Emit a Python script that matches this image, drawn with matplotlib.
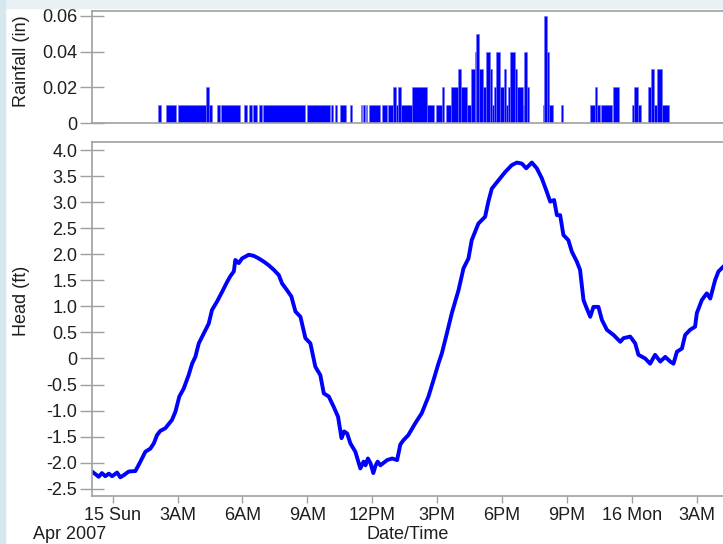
import matplotlib
matplotlib.use("Agg")
import matplotlib.pyplot as plt
from matplotlib.patches import Rectangle

plt.rcParams['font.family'] = ['Liberation Sans', 'DejaVu Sans']

# hours since 15 Apr 2007 00:00
rain_start = [2.08, 2.45, 3.00, 4.32, 4.44, 4.82, 4.99, 6.09, 6.29, 6.50, 6.78, 6.97,
              8.97, 10.10, 10.30, 10.51, 10.98, 11.46, 11.58, 11.69, 11.83, 12.44,
              12.75, 12.98, 13.10, 13.18, 13.34, 13.83, 14.55, 14.93, 15.22, 15.42,
              15.65, 15.95, 16.11, 16.40, 16.56, 16.76, 16.80, 16.94, 17.11, 17.27,
              17.45, 17.53, 17.65, 17.72, 17.91, 18.07, 18.18, 18.30, 18.38, 18.58,
              18.69, 18.96, 19.04, 19.15, 19.89, 19.96, 20.10, 20.19, 20.72, 22.05,
              22.31, 22.41, 22.59, 23.15, 24.01, 24.12, 24.27, 24.77, 24.90, 25.01,
              25.19, 25.38]
rain_end = [2.22, 2.91, 4.32, 4.44, 4.61, 4.94, 5.87, 6.20, 6.42, 6.69, 6.92, 8.90,
            10.05, 10.20, 10.39, 10.79, 11.05, 11.53, 11.65, 11.76, 12.36, 12.67,
            12.98, 13.10, 13.18, 13.34, 13.83, 14.55, 14.86, 15.22, 15.32, 15.65,
            15.95, 16.11, 16.40, 16.56, 16.76, 16.80, 16.94, 17.11, 17.27, 17.45,
            17.53, 17.65, 17.72, 17.91, 18.07, 18.18, 18.30, 18.38, 18.58, 18.69,
            18.96, 19.04, 19.15, 19.27, 19.96, 20.10, 20.19, 20.35, 20.81, 22.31,
            22.41, 22.51, 23.08, 23.39, 24.12, 24.27, 24.42, 24.90, 25.01, 25.19,
            25.38, 25.70]
rain_in = [0.01, 0.01, 0.01, 0.02, 0.01, 0.01, 0.01, 0.01, 0.01, 0.01, 0.01, 0.01,
           0.01, 0.01, 0.01, 0.01, 0.01, 0.01, 0.01, 0.01, 0.01, 0.01,
           0.01, 0.02, 0.01, 0.02, 0.01, 0.02, 0.01, 0.01, 0.02, 0.01,
           0.02, 0.03, 0.02, 0.01, 0.03, 0.04, 0.05, 0.03, 0.02, 0.04,
           0.03, 0.01, 0.02, 0.04, 0.02, 0.03, 0.01, 0.02, 0.04, 0.03,
           0.02, 0.01, 0.04, 0.02, 0.01, 0.06, 0.04, 0.01, 0.01, 0.01,
           0.02, 0.01, 0.01, 0.02, 0.01, 0.02, 0.01, 0.02, 0.03, 0.01,
           0.03, 0.01]

head_hr = [-0.96, -0.80, -0.65, -0.50, -0.34, -0.18, -0.03, 0.20, 0.35, 0.51, 0.74, 1.05,
           1.28, 1.51, 1.74, 1.90, 2.05, 2.20, 2.43, 2.74, 2.90, 3.08, 3.28, 3.51,
           3.67, 3.82, 3.98, 4.21, 4.44, 4.59, 4.82, 5.06, 5.29, 5.44, 5.60, 5.67,
           5.83, 5.98, 6.29, 6.52, 6.75, 6.98, 7.21, 7.45, 7.68, 7.83, 8.06, 8.26,
           8.45, 8.68, 8.91, 9.14, 9.37, 9.60, 9.76, 9.99, 10.22, 10.42, 10.58,
           10.70, 10.84, 10.99, 11.22, 11.45, 11.60, 11.69, 11.80, 11.92, 12.05,
           12.15, 12.25, 12.38, 12.69, 12.92, 13.15, 13.30, 13.44, 13.67,
           13.98, 14.29, 14.60, 14.83, 15.06, 15.22, 15.45, 15.68, 15.99, 16.22,
           16.45, 16.60, 16.91, 17.22, 17.37, 17.53, 17.84, 18.15, 18.45, 18.69,
           18.92, 19.12, 19.38, 19.61, 19.84, 20.07, 20.23, 20.41, 20.54, 20.69,
           20.84, 21.07, 21.23, 21.46, 21.61, 21.77, 21.92, 22.08, 22.23, 22.46,
           22.62, 22.85, 23.16, 23.47, 23.62, 23.93, 24.16, 24.31, 24.62, 24.85,
           25.08, 25.32, 25.55, 25.78, 25.93, 26.09, 26.32, 26.47, 26.70, 26.93,
           27.01, 27.24, 27.47, 27.63, 27.86, 28.01, 28.23]
head_ft = [-2.17, -2.22, -2.27, -2.20, -2.26, -2.21, -2.26, -2.19, -2.28, -2.24, -2.17, -2.16,
           -1.98, -1.79, -1.73, -1.63, -1.47, -1.39, -1.34, -1.18, -1.02, -0.73, -0.58, -0.32,
           -0.10, 0.03, 0.29, 0.48, 0.67, 0.93, 1.09, 1.28, 1.47, 1.58, 1.67, 1.89,
           1.83, 1.92, 1.99, 1.97, 1.92, 1.86, 1.79, 1.70, 1.60, 1.44, 1.31, 1.19,
           0.90, 0.80, 0.39, 0.29, -0.16, -0.32, -0.67, -0.73, -0.93, -1.12, -1.53,
           -1.40, -1.44, -1.63, -1.79, -2.11, -1.98, -2.05, -1.92, -2.01, -2.20,
           -2.06, -1.98, -2.05, -1.95, -1.92, -1.95, -1.65, -1.57, -1.47,
           -1.25, -1.05, -0.73, -0.42, -0.10, 0.10, 0.48, 0.87, 1.31, 1.73,
           1.92, 2.27, 2.59, 2.72, 3.01, 3.26, 3.42, 3.58, 3.71, 3.76,
           3.74, 3.65, 3.76, 3.65, 3.46, 3.20, 3.01, 3.04, 2.75, 2.75,
           2.37, 2.27, 2.05, 1.86, 1.70, 1.12, 0.96, 0.80, 0.99, 0.99,
           0.74, 0.55, 0.45, 0.32, 0.39, 0.42, 0.29, 0.07, 0.00, -0.10,
           0.07, -0.06, 0.03, -0.06, -0.10, 0.13, 0.19, 0.45, 0.55, 0.61,
           0.87, 1.12, 1.25, 1.15, 1.51, 1.67, 1.76]

tick_hr = [0, 3, 6, 9, 12, 15, 18, 21, 24, 27]
tick_lbl = ['15 Sun', '3AM', '6AM', '9AM', '12PM', '3PM', '6PM', '9PM', '16 Mon', '3AM']
rain_ticks = [0, 0.02, 0.04, 0.06]
rain_lbl = ['0', '0.02', '0.04', '0.06']
head_ticks = [4.0, 3.5, 3.0, 2.5, 2.0, 1.5, 1.0, 0.5, 0, -0.5, -1.0, -1.5, -2.0, -2.5]

blue = '#0000ff'
grey = '#a0a0a0'
txt = '#1e1e1e'
fs = 13

fig = plt.figure(figsize=(7.23, 5.44), dpi=100)
fig.patches.append(Rectangle((0, 0.985), 1, 0.015, transform=fig.transFigure,
                             color='#eaf1f5', zorder=0))
fig.patches.append(Rectangle((0, 0), 0.007, 1, transform=fig.transFigure,
                             color='#d6e8ee', zorder=0))

ax1 = fig.add_axes([0.1272, 0.7734, 0.8728, 0.2064])
ax2 = fig.add_axes([0.1272, 0.0882, 0.8728, 0.6513])

widths = [e - s for s, e in zip(rain_start, rain_end)]
ax1.bar(rain_start, rain_in, width=widths, align='edge', color=blue,
        edgecolor='#6f6fff', linewidth=0.4)
ax2.plot(head_hr, head_ft, color=blue, linewidth=2.8)

for ax in (ax1, ax2):
    ax.set_xlim(-0.96, 28.22)
    for side in ('left', 'top', 'bottom'):
        ax.spines[side].set_color(grey)
        ax.spines[side].set_linewidth(1.2)
    ax.spines['right'].set_visible(False)
    ax.tick_params(axis='y', direction='inout', length=17, width=1.0, color=grey,
                   labelsize=fs, labelcolor=txt, pad=2)

ax1.set_ylim(0, 0.0626)
ax1.set_yticks(rain_ticks)
ax1.set_yticklabels(rain_lbl)
ax1.set_xticks([])
ax1.set_ylabel('Rainfall (in)', fontsize=fs, color=txt)
ax1.yaxis.set_label_coords(-0.098, 0.55)

ax2.set_ylim(-2.64, 4.16)
ax2.set_yticks(head_ticks)
ax2.set_yticklabels(['%.1f' % t if t != 0 else '0' for t in head_ticks])
ax2.set_xticks(tick_hr)
ax2.set_xticklabels(tick_lbl)
ax2.tick_params(axis='x', direction='out', length=5, width=1.0, color=grey,
                labelsize=fs, labelcolor=txt, pad=3)
ax2.set_ylabel('Head (ft)', fontsize=fs, color=txt)
ax2.yaxis.set_label_coords(-0.098, 0.55)

fig.text(0.564, 0.0086, 'Date/Time', fontsize=fs, color=txt, ha='center', va='baseline')
fig.text(0.046, 0.0086, 'Apr 2007', fontsize=fs, color=txt, ha='left', va='baseline')

fig.savefig('out.png', dpi=100)
